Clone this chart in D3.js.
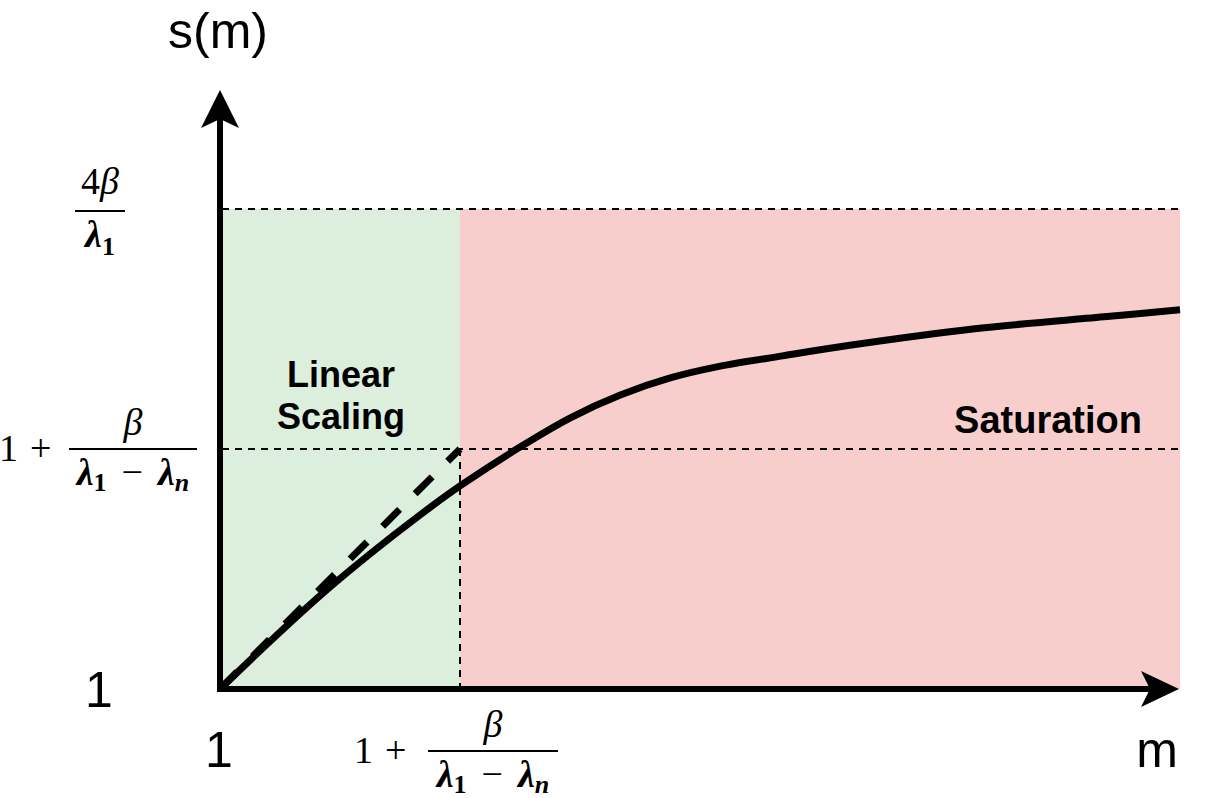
<!DOCTYPE html>
<html><head><meta charset="utf-8">
<script src="https://cdn.jsdelivr.net/npm/d3@7"></script>
<style>
html,body{margin:0;padding:0;background:#fff;}
svg{display:block;}
</style></head>
<body>
<svg id="chart" width="1214" height="798"></svg>
<script>
// ---- data ----
const curveM = [0, 5.2, 10.4, 15.6, 20.8, 25.0, 31.25, 36.5, 41.7, 46.9, 52.0, 58.6, 65.6, 78.4, 92.4, 100];
const curveS = [0, 9.9, 19.4, 28.1, 36.2, 42.3, 50.4, 56.5, 61.25, 64.8, 67.2, 69.4, 71.6, 75.0, 77.6, 79.0];
const linearM = [0, 25];
const linearS = [0, 50];
const thresholdM = 25;   // 1 + beta/(l1 - ln)
const thresholdS = 50;   // 1 + beta/(l1 - ln)
const maxS = 100;        // 4 beta / l1
const regionNames = ["Linear", "Scaling"];
const satName = "Saturation";
const axisNames = ["s(m)", "m"];
const originLabel = "1";

// ---- scales ----
const x = d3.scaleLinear().domain([0, 100]).range([220, 1180]);
const y = d3.scaleLinear().domain([0, 100]).range([689, 209]);

const svg = d3.select("#chart");
const sans = "'Liberation Sans', Arial, Helvetica, sans-serif";
const serif = "'Liberation Serif', 'Times New Roman', serif";

// regions
svg.append("rect").attr("x", x(0)).attr("y", y(maxS)).attr("width", x(thresholdM) - x(0)).attr("height", y(0) - y(maxS)).attr("fill", "#dcefdc");
svg.append("rect").attr("x", x(thresholdM)).attr("y", y(maxS)).attr("width", x(100) - x(thresholdM)).attr("height", y(0) - y(maxS)).attr("fill", "#f8cecc");

// thin dashed guides
const guide = (x1, y1, x2, y2) => svg.append("line").attr("x1", x1).attr("y1", y1).attr("x2", x2).attr("y2", y2)
  .attr("stroke", "#000").attr("stroke-width", 2).attr("stroke-dasharray", "7 6");
guide(x(0) + 2, y(maxS), x(100), y(maxS));
guide(x(0) + 2, y(thresholdS), x(100), y(thresholdS));
guide(x(thresholdM), y(thresholdS), x(thresholdM), y(0));

// linear dashed line
svg.append("path")
  .datum(linearM.map((m, i) => [m, linearS[i]]))
  .attr("d", d3.line().x(d => x(d[0])).y(d => y(d[1])))
  .attr("fill", "none").attr("stroke", "#000").attr("stroke-width", 7)
  .attr("stroke-dasharray", "24 22");

// curve
svg.append("path")
  .datum(curveM.map((m, i) => [m, curveS[i]]))
  .attr("d", d3.line().x(d => x(d[0])).y(d => y(d[1])).curve(d3.curveCatmullRom.alpha(0.5)))
  .attr("fill", "none").attr("stroke", "#000").attr("stroke-width", 7);

// axes
svg.append("line").attr("x1", x(0)).attr("y1", y(0) + 3).attr("x2", x(0)).attr("y2", 118).attr("stroke", "#000").attr("stroke-width", 6);
svg.append("line").attr("x1", x(0) - 3).attr("y1", y(0)).attr("x2", 1150).attr("y2", y(0)).attr("stroke", "#000").attr("stroke-width", 6);
// arrowheads
const ox = x(0), oy = y(0);
svg.append("path").attr("d", `M${ox},90 L${ox + 19},128 L${ox},119 L${ox - 19},128 Z`).attr("fill", "#000");
svg.append("path").attr("d", `M1179,${oy} L1141,${oy - 18} L1150,${oy} L1141,${oy + 18} Z`).attr("fill", "#000");

// axis names
svg.append("text").attr("x", 218).attr("y", 48).attr("text-anchor", "middle").attr("font-family", sans).attr("font-size", 50).text(axisNames[0]);
svg.append("text").attr("x", 1157).attr("y", 767).attr("text-anchor", "middle").attr("font-family", sans).attr("font-size", 50).text(axisNames[1]);
svg.append("text").attr("x", 99).attr("y", 707).attr("text-anchor", "middle").attr("font-family", sans).attr("font-size", 50).text(originLabel);
svg.append("text").attr("x", 219).attr("y", 767).attr("text-anchor", "middle").attr("font-family", sans).attr("font-size", 50).text(originLabel);

// region labels
svg.append("text").attr("x", 341).attr("y", 387).attr("text-anchor", "middle").attr("font-family", sans).attr("font-weight", "bold").attr("font-size", 36).text(regionNames[0]);
svg.append("text").attr("x", 341).attr("y", 429).attr("text-anchor", "middle").attr("font-family", sans).attr("font-weight", "bold").attr("font-size", 36).text(regionNames[1]);
svg.append("text").attr("x", 1142).attr("y", 433).attr("text-anchor", "end").attr("font-family", sans).attr("font-weight", "bold").attr("font-size", 38).text(satName);

// math labels
function mathText(g, cx, by, parts, anchor) {
  const t = g.append("text").attr("x", cx).attr("y", by).attr("text-anchor", anchor || "middle")
    .attr("font-family", serif).attr("font-size", 38);
  parts.forEach(p => {
    const s = t.append("tspan").text(p.t);
    if (p.italic) s.attr("font-style", "italic");
    if (p.bold) s.attr("font-weight", "bold");
    if (p.sub) s.attr("font-size", 26).attr("dy", p.sub);
    if (p.back) s.attr("dy", -p.back);
    if (p.dx) s.attr("dx", p.dx);
  });
  return t;
}
const den = [
  {t: "λ", italic: true, bold: true}, {t: "1", sub: 6, bold: true},
  {t: "−", back: 6, dx: 15},
  {t: "λ", italic: true, bold: true, dx: 15}, {t: "n", italic: true, bold: true, sub: 6}
];
function fracLabel(bx1, bx2, barY, prefixX) {
  const g = svg.append("g");
  g.append("line").attr("x1", bx1).attr("x2", bx2).attr("y1", barY).attr("y2", barY).attr("stroke", "#000").attr("stroke-width", 2);
  const cx = (bx1 + bx2) / 2;
  mathText(g, cx, barY - 14, [{t: "β", italic: true}]);
  mathText(g, cx, barY + 36, den);
  mathText(g, prefixX, barY + 12, [{t: "1"}, {t: "+", dx: 12}], "start");
}
// 4beta / lambda1
{
  const g = svg.append("g");
  const bY = y(maxS) + 2;
  g.append("line").attr("x1", 75).attr("x2", 125).attr("y1", bY).attr("y2", bY).attr("stroke", "#000").attr("stroke-width", 2);
  mathText(g, 100, bY - 17, [{t: "4"}, {t: "β", italic: true}]);
  mathText(g, 100, bY + 36, [{t: "λ", italic: true, bold: true}, {t: "1", sub: 8, bold: true}]);
}
fracLabel(69, 197, y(thresholdS), -1);
fracLabel(428, 558, 751, 354);
</script>
</body></html>
